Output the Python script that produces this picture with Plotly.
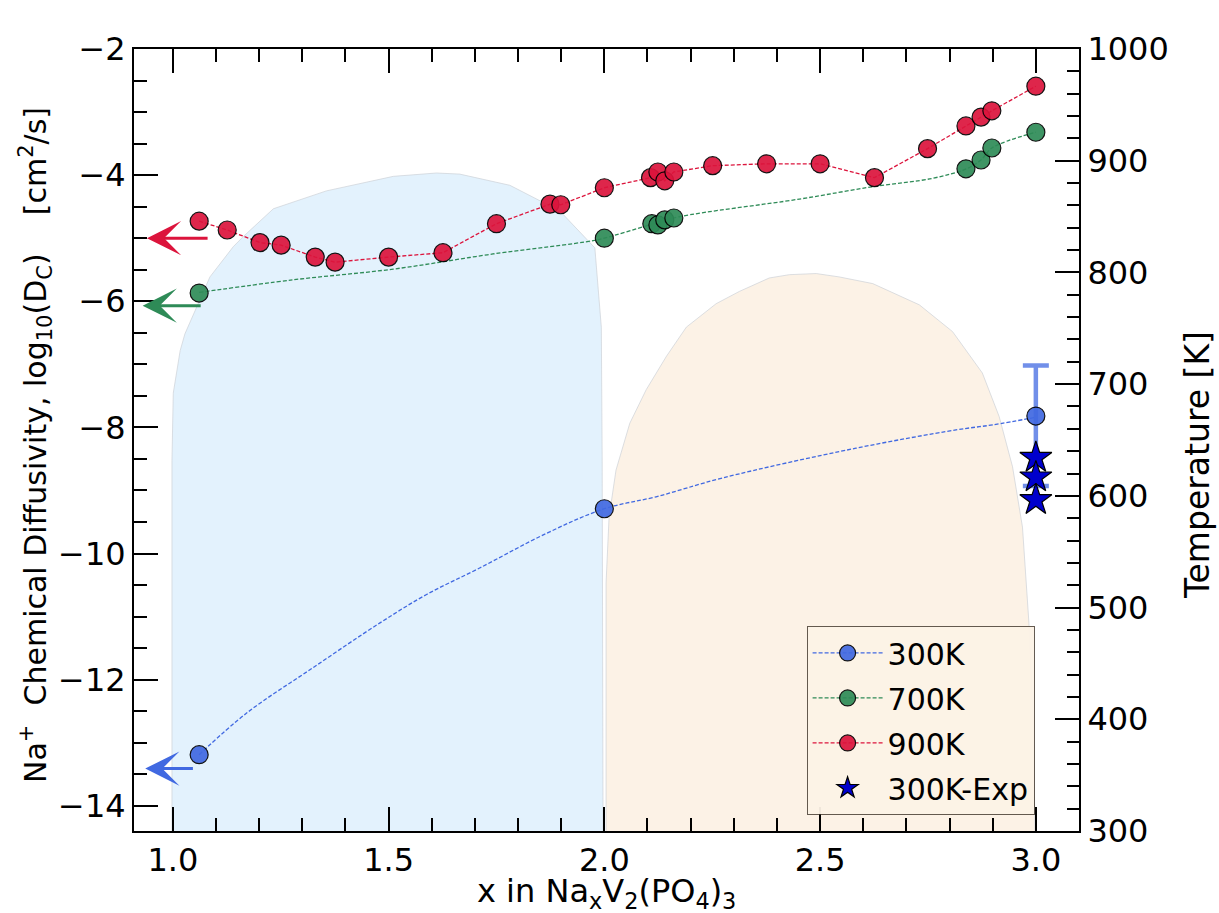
import plotly.graph_objects as go

# ---------------- data ----------------
# 900K simulated chemical diffusivity (log10 cm^2/s)
x_900 = [1.061, 1.126, 1.202, 1.251, 1.330, 1.376, 1.500, 1.626, 1.750, 1.874, 1.899,
         2.000, 2.107, 2.124, 2.140, 2.161, 2.251, 2.376, 2.500, 2.626, 2.749, 2.838,
         2.873, 2.898, 3.000]
y_900 = [-4.73, -4.87, -5.07, -5.11, -5.30, -5.38, -5.30, -5.23, -4.77, -4.46, -4.47,
         -4.20, -4.04, -3.95, -4.09, -3.95, -3.85, -3.82, -3.82, -4.04, -3.58, -3.22,
         -3.08, -2.98, -2.59]

# 700K points and fitted curve
x_700 = [1.061, 2.000, 2.110, 2.124, 2.140, 2.161, 2.838, 2.873, 2.898, 3.000]
y_700 = [-5.87, -5.00, -4.77, -4.79, -4.71, -4.68, -3.90, -3.76, -3.57, -3.32]
x_700_fit = [1.061, 1.279, 1.511, 1.742, 1.974, 2.000, 2.110, 2.174, 2.452, 2.625,
             2.761, 2.839, 2.873, 2.898, 3.000]
y_700_fit = [-5.86, -5.66, -5.49, -5.25, -5.04, -5.00, -4.78, -4.66, -4.38, -4.18,
             -4.05, -3.90, -3.76, -3.57, -3.32]

# 300K points and fitted curve
x_300 = [1.061, 2.000, 3.000]
y_300 = [-13.19, -9.29, -7.82]
x_300_fit = [1.061, 1.171, 1.325, 1.480, 1.588, 1.711, 1.866, 2.000, 2.120, 2.275,
             2.583, 2.815, 2.900, 3.000]
y_300_fit = [-13.19, -12.53, -11.81, -11.10, -10.65, -10.23, -9.68, -9.29, -9.10, -8.80,
             -8.33, -8.04, -7.96, -7.84]
err_300_plus = [0.80]
err_300_minus = [1.11]

# 300K experimental values
x_exp = [3.0, 3.0, 3.0]
y_exp = [-8.48, -8.79, -9.15]

# Arrows (head x, tail x, y)
arrow_y = {"red": -5.00, "green": -6.07, "blue": -13.41}

# Phase regions (x, temperature K)
blue_x = [0.998, 0.998, 1.001, 1.017, 1.028, 1.063, 1.086, 1.140, 1.163, 1.233, 1.356,
          1.511, 1.611, 1.665, 1.781, 1.897, 1.978, 1.993, 1.995, 1.997]
blue_T = [300, 632, 692, 730, 745, 775, 796, 823, 832, 857, 873,
          886, 889, 888, 878, 855, 822, 751, 632, 300]
orange_x = [2.004, 2.004, 2.011, 2.027, 2.059, 2.097, 2.144, 2.190, 2.259, 2.313, 2.382,
            2.429, 2.491, 2.544, 2.622, 2.730, 2.807, 2.876, 2.915, 2.946, 2.969, 2.984,
            2.994, 2.998]
orange_T = [300, 522, 581, 623, 665, 695, 725, 751, 772, 783, 795,
            798, 799, 796, 790, 771, 747, 710, 671, 626, 572, 486,
            399, 300]

BLUE = "#4169E1"
GREEN = "#2E8B57"
RED = "#DC143C"
FONT = "DejaVu Sans"
DASH = "4px,2px"

fig = go.Figure()

# phase regions on temperature axis (primary y, drawn underneath)
fig.add_trace(go.Scatter(x=blue_x, y=blue_T, yaxis="y", mode="lines", fill="toself",
                         fillcolor="rgb(227,242,253)",
                         line=dict(color="rgba(205,210,215,0.7)", width=1),
                         showlegend=False, hoverinfo="skip"))
fig.add_trace(go.Scatter(x=orange_x, y=orange_T, yaxis="y", mode="lines", fill="toself",
                         fillcolor="rgb(252,242,230)",
                         line=dict(color="rgba(205,210,215,0.7)", width=1),
                         showlegend=False, hoverinfo="skip"))

mk = dict(size=18, opacity=0.92, line=dict(color="black", width=1.2))

# 300K
fig.add_trace(go.Scatter(x=x_300_fit, y=y_300_fit, yaxis="y2", mode="lines",
                         line_shape="spline",
                         line=dict(color=BLUE, width=1.3, dash=DASH),
                         showlegend=False, hoverinfo="skip"))
fig.add_trace(go.Scatter(x=[x_300[-1]], y=[y_300[-1]], yaxis="y2", mode="markers",
                         marker=dict(size=1, opacity=0),
                         error_y=dict(type="data", array=err_300_plus,
                                      arrayminus=err_300_minus,
                                      color="rgba(65,105,225,0.75)", thickness=4.5, width=13),
                         showlegend=False, hoverinfo="skip"))
fig.add_trace(go.Scatter(x=x_300, y=y_300, yaxis="y2", mode="markers",
                         marker=dict(color=BLUE, **mk), showlegend=False))
fig.add_trace(go.Scatter(x=[None], y=[None], yaxis="y2", mode="lines+markers", name="300K",
                         legendgroup="a",
                         line=dict(color=BLUE, width=1.3, dash=DASH),
                         marker=dict(color=BLUE, **mk)))

# 700K
fig.add_trace(go.Scatter(x=x_700_fit, y=y_700_fit, yaxis="y2", mode="lines",
                         line_shape="spline",
                         line=dict(color=GREEN, width=1.3, dash=DASH),
                         showlegend=False, hoverinfo="skip"))
fig.add_trace(go.Scatter(x=x_700, y=y_700, yaxis="y2", mode="markers",
                         marker=dict(color=GREEN, **mk), showlegend=False))
fig.add_trace(go.Scatter(x=[None], y=[None], yaxis="y2", mode="lines+markers", name="700K",
                         legendgroup="b",
                         line=dict(color=GREEN, width=1.3, dash=DASH),
                         marker=dict(color=GREEN, **mk)))

# 900K
fig.add_trace(go.Scatter(x=x_900, y=y_900, yaxis="y2", mode="lines+markers", name="900K",
                         legendgroup="c",
                         line=dict(color=RED, width=1.3, dash=DASH),
                         marker=dict(color=RED, **mk)))

# experiment
fig.add_trace(go.Scatter(x=x_exp, y=y_exp, yaxis="y2", mode="markers", name="300K-Exp",
                         legendgroup="d",
                         marker=dict(symbol="star", size=24, color="#0000CD",
                                     line=dict(color="black", width=1.2))))

# arrows
arrow_specs = [(0.940, 1.084, arrow_y["red"], RED),
               (0.930, 1.068, arrow_y["green"], GREEN),
               (0.936, 1.050, arrow_y["blue"], BLUE)]
for hx, tx, ay, col in arrow_specs:
    fig.add_annotation(x=hx, y=ay, ax=tx, ay=ay, xref="x", yref="y2", axref="x", ayref="y2",
                       showarrow=True, arrowhead=3, arrowsize=1.9, arrowwidth=3,
                       arrowcolor=col, text="")

# axis titles
fig.add_annotation(xref="paper", yref="paper", x=0, y=0.5, xshift=-99, yshift=-5,
                   textangle=-90, showarrow=False, xanchor="center", yanchor="middle",
                   text="Na<sup>+</sup>\u00a0\u00a0Chemical Diffusivity, log<sub>10</sub>(D<sub>C</sub>)\u00a0\u00a0\u00a0\u00a0[cm<sup>2</sup>/s]",
                   font=dict(family=FONT, size=30, color="black"))
fig.add_annotation(xref="paper", yref="paper", x=1, y=0.5, xshift=118, yshift=-25,
                   textangle=-90, showarrow=False, xanchor="center", yanchor="middle",
                   text="Temperature [K]",
                   font=dict(family=FONT, size=33, color="black"))
fig.add_annotation(xref="paper", yref="paper", x=0.5, y=0, yshift=-39,
                   showarrow=False, xanchor="center", yanchor="top",
                   text="x in Na<sub>x</sub>V<sub>2</sub>(PO<sub>4</sub>)<sub>3</sub>",
                   font=dict(family=FONT, size=32, color="black"))

tickfont = dict(family=FONT, size=32, color="black")
common = dict(showline=True, linecolor="black", linewidth=2, ticks="inside",
              ticklen=24, tickwidth=2, tickcolor="black", tickfont=tickfont,
              showgrid=False, zeroline=False)

fig.update_layout(
    width=1219, height=913,
    margin=dict(l=134, r=140, t=49, b=82),
    plot_bgcolor="white", paper_bgcolor="white",
    font=dict(family=FONT, color="black"),
    xaxis=dict(range=[0.91, 3.1], dtick=0.5, tick0=1.0, tickformat=".1f", mirror="ticks",
               minor=dict(dtick=0.1, ticks="inside", ticklen=13, tickwidth=2,
                          tickcolor="black"),
               **common),
    yaxis=dict(range=[300, 1000], dtick=100, tick0=0, side="right",
               minor=dict(dtick=20, ticks="inside", ticklen=12, tickwidth=2,
                          tickcolor="black"),
               **common),
    yaxis2=dict(range=[-14.4, -2], dtick=2, tick0=0, overlaying="y", side="left",
                minor=dict(dtick=0.5, ticks="inside", ticklen=13, tickwidth=2,
                           tickcolor="black"),
                **common),
    legend=dict(x=0.953, y=0.0205, xanchor="right", yanchor="bottom",
                bgcolor="rgba(252,242,230,0.95)", bordercolor="rgba(60,50,40,0.8)",
                borderwidth=1, font=dict(family=FONT, size=30, color="black"),
                tracegroupgap=3, itemwidth=70),
)

fig.write_html("out.html")
